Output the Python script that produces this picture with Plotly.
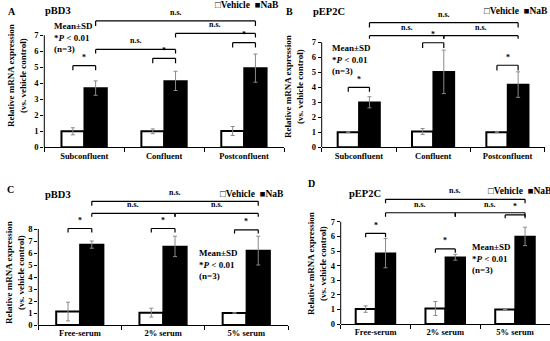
import plotly.graph_objects as go

# ---------------- data ----------------
cats_conf = ["Subconfluent", "Confluent", "Postconfluent"]
cats_serum = ["Free-serum", "2% serum", "5% serum"]

a_vehicle = [1.0, 1.0, 1.02]
a_vehicle_sd = [0.22, 0.15, 0.28]
a_nab = [3.7, 4.15, 4.95]
a_nab_sd = [0.45, 0.6, 0.88]

b_vehicle = [1.0, 1.05, 1.0]
b_vehicle_sd = [0.03, 0.2, 0.03]
b_nab = [3.0, 5.03, 4.18]
b_nab_sd = [0.37, 1.45, 0.85]

c_vehicle = [1.12, 1.03, 1.0]
c_vehicle_sd = [0.78, 0.37, 0.0]
c_nab = [6.7, 6.55, 6.2]
c_nab_sd = [0.3, 0.85, 1.2]

d_vehicle = [1.02, 1.06, 1.0]
d_vehicle_sd = [0.22, 0.48, 0.0]
d_nab = [4.85, 4.57, 6.0]
d_nab_sd = [1.0, 0.2, 0.63]

a_ticks = [0, 1, 2, 3, 4, 5, 6, 7]
b_ticks = [0, 1, 2, 3, 4, 5, 6, 7]
c_ticks = [0, 1, 2, 3, 4, 5, 6, 7, 8]
d_ticks = [0, 1, 2, 3, 4, 5, 6, 7]

series_names = ["Vehicle", "NaB"]
titles = ["pBD3", "pEP2C", "pBD3", "pEP2C"]
letters = ["A", "B", "C", "D"]

# ---------------- layout (pixel boxes) ----------------
W, H = 550, 341
SERIF = "Liberation Serif"
BAR_GAP = 0.43
DX = (1 - BAR_GAP) / 4

def px(x):
    return x / W

def py(y):
    return 1 - y / H

panels = [
    dict(cats=cats_conf, veh=a_vehicle, vsd=a_vehicle_sd, nab=a_nab, nsd=a_nab_sd, ticks=a_ticks,
         x0=44.3, x1=284, zero=147.3, unit=16, top=8.7,
         letter=(11.7, 11.7), title=(43, 10.7), legend=(213, 5.5), stat=(51.7, 19.5),
         ytitle=(17, 76),
         brackets=[("s", 0, 0, 5.1, 0.28), ("s", 1, 1, 5.56, 0.3), ("s", 2, 2, 6.54, 0.31),
                   ("n", 0, 1, 6.12, 0.25), ("n", 1, 2, 7.12, 0.25), ("n", 0, 2, 7.9, 0.32)]),
    dict(cats=cats_conf, veh=b_vehicle, vsd=b_vehicle_sd, nab=b_nab, nsd=b_nab_sd, ticks=b_ticks,
         x0=321.7, x1=544.7, zero=147.3, unit=15, top=9.3,
         letter=(289, 11.7), title=(311, 11.7), legend=(481.7, 10.7), stat=(330, 40.5),
         ytitle=(294, 87),
         brackets=[("s", 0, 0, 4.0, 0.29), ("s", 1, 1, 6.97, 0.35), ("s", 2, 2, 5.47, 0.35),
                   ("n", 0, 1, 7.44, 0.2), ("n", 1, 2, 7.44, 0.2), ("n", 0, 2, 8.31, 0.33)]),
    dict(cats=cats_serum, veh=c_vehicle, vsd=c_vehicle_sd, nab=c_nab, nsd=c_nab_sd, ticks=c_ticks,
         x0=38.3, x1=288, zero=325, unit=12, top=11.1,
         letter=(10, 190), title=(43, 194), legend=(218, 194), stat=(196.7, 245.5),
         ytitle=(15, 273),
         brackets=[("s", 0, 0, 8.04, 0.33), ("s", 1, 1, 8.04, 0.33), ("s", 2, 2, 7.93, 0.3),
                   ("n", 0, 1, 9.3, 0.28), ("n", 1, 2, 9.3, 0.28), ("n", 0, 2, 10.31, 0.37)]),
    dict(cats=cats_serum, veh=d_vehicle, vsd=d_vehicle_sd, nab=d_nab, nsd=d_nab_sd, ticks=d_ticks,
         x0=340.7, x1=550, zero=324, unit=14.6, top=9.5,
         letter=(311.7, 183.3), title=(346.7, 193.3), legend=(485.7, 190.7), stat=(470, 239.5),
         ytitle=(317, 264),
         brackets=[("s", 0, 0, 6.21, 0.27), ("s", 1, 1, 5.14, 0.26), ("s", 2, 2, 7.47, 0.23),
                   ("n", 0, 1, 7.62, 0.27), ("n", 1, 2, 7.62, 0.27), ("n", 0, 2, 8.54, 0.27)]),
]

fig = go.Figure()
shapes = []
annotations = []

tick_font = dict(family=SERIF, size=8.5, color="black", weight="bold")
txt_font = dict(family=SERIF, size=9, color="black", weight="bold")

for k, p in enumerate(panels):
    n = "" if k == 0 else str(k + 1)
    xa, ya = "x" + n, "y" + n
    err_style = dict(type="data", color="#8a8a8a", thickness=1, width=2, visible=True)
    fig.add_trace(go.Bar(x=p["cats"], y=p["veh"], name=series_names[0], xaxis=xa, yaxis=ya,
                         marker=dict(color="white", line=dict(color="black", width=2)),
                         error_y=dict(array=p["vsd"], **err_style), showlegend=False))
    fig.add_trace(go.Bar(x=p["cats"], y=p["nab"], name=series_names[1], xaxis=xa, yaxis=ya,
                         marker=dict(color="black", line=dict(color="black", width=1.5)),
                         error_y=dict(array=p["nsd"], **err_style), showlegend=False))

    ytop_px = p["zero"] - p["top"] * p["unit"]
    fig.layout["xaxis" + n] = dict(
        domain=[px(p["x0"]), px(p["x1"])], anchor=ya, type="category", range=[-0.5, 2.5],
        showline=True, linecolor="black", linewidth=1, ticks="outside", tickson="boundaries",
        ticklen=4, tickcolor="black", tickwidth=1, tickfont=tick_font, showgrid=False,
        zeroline=False, fixedrange=True, automargin=False)
    fig.layout["yaxis" + n] = dict(
        domain=[py(p["zero"]), py(ytop_px)], anchor=xa, range=[0, p["top"]],
        tickvals=p["ticks"], ticks="outside", ticklen=3, tickcolor="black", tickwidth=1,
        tickfont=tick_font, showline=False, showgrid=False, zeroline=False, fixedrange=True,
        automargin=False)

    # y axis line only up to the last tick
    shapes.append(dict(type="line", xref=xa + " domain", yref=ya, x0=0, x1=0,
                       y0=0, y1=p["ticks"][-1], line=dict(color="black", width=1)))

    # significance brackets
    for kind, i, j, h, drop in p["brackets"]:
        if kind == "s":
            xl, xr, label, ysh = i - DX, i + DX, "*", 1.5
        else:
            xl, xr, label, ysh = i + DX, j + DX, "n.s.", 2
        for (ax0, ay0, ax1, ay1) in [(xl, h - drop, xl, h), (xl, h, xr, h), (xr, h, xr, h - drop)]:
            shapes.append(dict(type="line", xref=xa, yref=ya, x0=ax0, y0=ay0, x1=ax1, y1=ay1,
                               line=dict(color="black", width=1.2)))
        annotations.append(dict(xref=xa, yref=ya, x=(xl + xr) / 2, y=h, text=label,
                                showarrow=False, yanchor="bottom", yshift=ysh,
                                font=dict(family=SERIF, size=8, color="black", weight="bold")))

    # texts
    annotations.append(dict(xref="paper", yref="paper", x=px(p["letter"][0]), y=py(p["letter"][1]),
                            text=letters[k], showarrow=False, xanchor="center", yanchor="middle",
                            font=dict(family=SERIF, size=10, color="black", weight="bold")))
    annotations.append(dict(xref="paper", yref="paper", x=px(p["title"][0]), y=py(p["title"][1]),
                            text=titles[k], showarrow=False, xanchor="left", yanchor="middle",
                            font=dict(family=SERIF, size=10.5, color="black", weight="bold")))
    annotations.append(dict(xref="paper", yref="paper", x=px(p["legend"][0]), y=py(p["legend"][1]),
                            text="□" + series_names[0] + "  ■" + series_names[1], showarrow=False,
                            xanchor="left", yanchor="middle",
                            font=dict(family=SERIF, size=9.5, color="black", weight="bold")))
    annotations.append(dict(xref="paper", yref="paper", x=px(p["stat"][0]), y=py(p["stat"][1]),
                            text="Mean±SD<br>*<i>P</i> < 0.01<br>(n=3)", showarrow=False,
                            xanchor="left", yanchor="top", align="left", font=txt_font))
    annotations.append(dict(xref="paper", yref="paper", x=px(p["ytitle"][0]), y=py(p["ytitle"][1]),
                            text="Relative mRNA expression<br>(vs. vehicle control)", showarrow=False,
                            textangle=-90, xanchor="center", yanchor="middle",
                            font=dict(family=SERIF, size=9, color="black", weight="bold")))

fig.update_layout(width=W, height=H, margin=dict(l=0, r=0, t=0, b=0, autoexpand=False),
                  paper_bgcolor="white", plot_bgcolor="rgba(0,0,0,0)",
                  barmode="group", bargap=BAR_GAP, bargroupgap=0,
                  shapes=shapes, annotations=annotations, showlegend=False)

fig.write_html("out.html", config={"displayModeBar": False},
               post_script="document.body.style.margin='0px';document.body.style.overflow='hidden';")
